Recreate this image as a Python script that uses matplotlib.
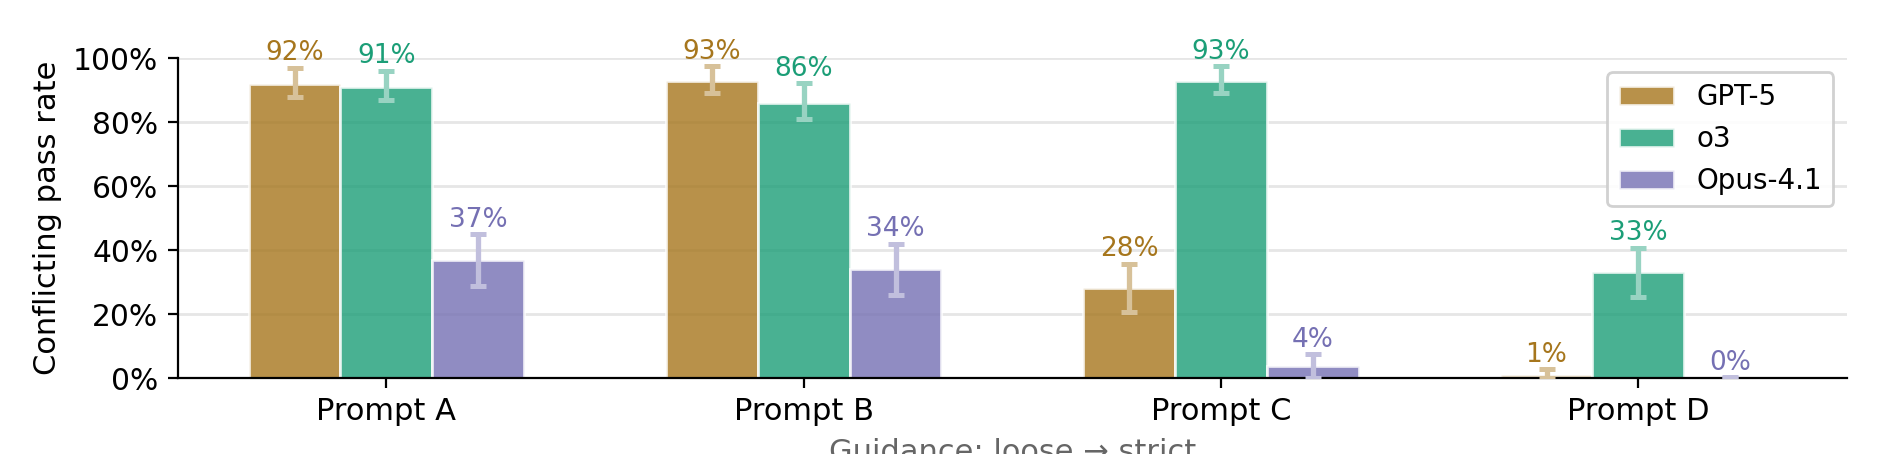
import numpy as np
import matplotlib
matplotlib.use("Agg")
import matplotlib.pyplot as plt
from matplotlib.colors import to_rgb

categories = ["Prompt A", "Prompt B", "Prompt C", "Prompt D"]
models = ["GPT-5", "o3", "Opus-4.1"]

gpt5_vals = [0.92, 0.93, 0.28, 0.01]
gpt5_lo = [0.879, 0.892, 0.205, 0.0]
gpt5_hi = [0.970, 0.976, 0.357, 0.027]

o3_vals = [0.91, 0.86, 0.93, 0.33]
o3_lo = [0.868, 0.809, 0.892, 0.252]
o3_hi = [0.9615, 0.923, 0.976, 0.407]

opus_vals = [0.37, 0.34, 0.036, 0.0]
opus_lo = [0.289, 0.259, 0.0, 0.0]
opus_hi = [0.449, 0.42, 0.074, 0.003]

colors = ["#A6761D", "#1B9E77", "#7570B3"]

series_vals = [gpt5_vals, o3_vals, opus_vals]
series_lo = [gpt5_lo, o3_lo, opus_lo]
series_hi = [gpt5_hi, o3_hi, opus_hi]

plt.rcParams["font.family"] = ["DejaVu Sans"]
plt.rcParams["font.size"] = 11

fig = plt.figure(figsize=(9.505, 2.27), dpi=200)
ax = fig.add_axes([0.0935, 0.1674, 0.9716 - 0.0935, 0.8716 - 0.1674])

x = np.arange(len(categories))
width = 0.22

def lighten(c, t=0.45):
    r, g, b = to_rgb(c)
    return (1 - t + t * r, 1 - t + t * g, 1 - t + t * b)

for i, (name, vals, lo, hi, col) in enumerate(zip(models, series_vals, series_lo, series_hi, colors)):
    pos = x + (i - 1) * width
    vals = np.array(vals)
    lo = np.array(lo)
    hi = np.array(hi)
    ax.bar(pos, vals, width, color=col, alpha=0.8, edgecolor="white", linewidth=1.0,
           label=name, zorder=2)
    ax.errorbar(pos, vals, yerr=[vals - lo, hi - vals], fmt="none", ecolor=lighten(col),
                elinewidth=1.9, capsize=3.0, capthick=1.8, zorder=3)
    for p, v, h in zip(pos, vals, hi):
        ax.annotate(f"{v*100:.0f}%", xy=(p, h), xytext=(0, 0.5), textcoords="offset points",
                    ha="center", va="bottom", color=col, fontsize=9.5, annotation_clip=False)

ax.set_xlim(-0.5, 3.5)
ax.set_ylim(0, 1.0)
ax.set_yticks([0, 0.2, 0.4, 0.6, 0.8, 1.0])
ax.set_yticklabels(["0%", "20%", "40%", "60%", "80%", "100%"])
ax.tick_params(axis="y", labelsize=10.7)
ax.set_xticks(x)
ax.set_xticklabels(categories)
ax.set_ylabel("Conflicting pass rate")
ax.set_xlabel("Guidance: loose \u2192 strict", color="#666666")
ax.yaxis.grid(True, color="#e6e6e6", linewidth=1.0)
ax.set_axisbelow(True)
for s in ["top", "right"]:
    ax.spines[s].set_visible(False)

leg = ax.legend(loc="upper right", fontsize=10, frameon=True, framealpha=0.9,
                edgecolor="#cccccc", fancybox=True)

fig.savefig("out.png", dpi=200)
